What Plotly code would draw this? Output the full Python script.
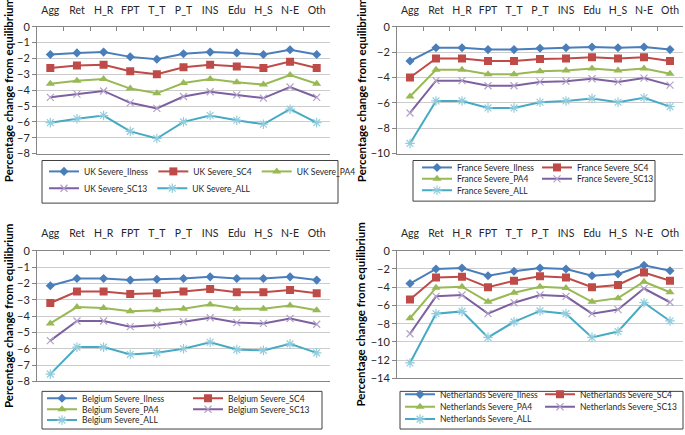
import plotly.graph_objects as go

# sectors on the category axis
categories = ["Agg", "Ret", "H_R", "FPT", "T_T", "P_T", "INS", "Edu", "H_S", "N-E", "Oth"]
scenarios = ["Severe_Ilness", "Severe_SC4", "Severe_PA4", "Severe_SC13", "Severe_ALL"]

# UK
uk_illness = [-1.75, -1.65, -1.6, -1.9, -2.05, -1.7, -1.6, -1.65, -1.75, -1.45, -1.75]
uk_sc4 = [-2.6, -2.45, -2.4, -2.8, -3.0, -2.55, -2.4, -2.5, -2.6, -2.2, -2.6]
uk_pa4 = [-3.6, -3.4, -3.3, -3.9, -4.2, -3.55, -3.3, -3.5, -3.65, -3.05, -3.6]
uk_sc13 = [-4.45, -4.25, -4.05, -4.8, -5.15, -4.4, -4.1, -4.3, -4.5, -3.8, -4.45]
uk_all = [-6.05, -5.8, -5.6, -6.6, -7.05, -6.0, -5.6, -5.9, -6.15, -5.2, -6.05]

# France
fr_illness = [-2.7, -1.65, -1.65, -1.8, -1.8, -1.7, -1.65, -1.6, -1.65, -1.6, -1.8]
fr_sc4 = [-4.0, -2.5, -2.5, -2.7, -2.7, -2.55, -2.5, -2.4, -2.5, -2.4, -2.7]
fr_pa4 = [-5.5, -3.4, -3.4, -3.75, -3.75, -3.5, -3.45, -3.3, -3.45, -3.3, -3.7]
fr_sc13 = [-6.8, -4.25, -4.25, -4.65, -4.65, -4.35, -4.3, -4.1, -4.35, -4.05, -4.6]
fr_all = [-9.2, -5.85, -5.85, -6.4, -6.4, -5.95, -5.85, -5.65, -5.95, -5.6, -6.3]

# Belgium
be_illness = [-2.15, -1.7, -1.7, -1.8, -1.75, -1.7, -1.6, -1.7, -1.7, -1.6, -1.8]
be_sc4 = [-3.2, -2.5, -2.5, -2.65, -2.6, -2.5, -2.35, -2.55, -2.55, -2.4, -2.6]
be_pa4 = [-4.45, -3.45, -3.5, -3.7, -3.65, -3.55, -3.3, -3.55, -3.55, -3.35, -3.65]
be_sc13 = [-5.5, -4.3, -4.3, -4.65, -4.55, -4.35, -4.1, -4.4, -4.45, -4.15, -4.5]
be_all = [-7.55, -5.9, -5.9, -6.35, -6.25, -6.0, -5.6, -6.05, -6.1, -5.7, -6.25]

# Netherlands
nl_illness = [-3.6, -2.0, -1.9, -2.75, -2.25, -1.9, -2.0, -2.75, -2.55, -1.6, -2.2]
nl_sc4 = [-5.35, -2.95, -2.85, -4.0, -3.3, -2.8, -2.95, -4.0, -3.75, -2.4, -3.3]
nl_pa4 = [-7.4, -4.05, -3.95, -5.6, -4.6, -3.95, -4.1, -5.6, -5.2, -3.4, -4.55]
nl_sc13 = [-9.1, -5.0, -4.85, -6.9, -5.7, -4.85, -5.0, -6.9, -6.45, -4.15, -5.65]
nl_all = [-12.3, -6.9, -6.65, -9.5, -7.8, -6.6, -6.9, -9.5, -8.85, -5.7, -7.7]

W, H = 685, 435
FONT = "Lato, Roboto, sans-serif"


def fx(p):
    return p / W


def fy(p):
    return 1 - p / H


# line colour, marker symbol, marker size, marker colour, marker line width
styles = [
    ("#4a7ebb", "diamond", 7, "#4a7ebb", 0),
    ("#be4b48", "square", 8, "#be4b48", 0),
    ("#98b954", "triangle-up", 8, "#98b954", 0),
    ("#7d60a0", "x-thin", 7, "#b3a2c7", 1.2),
    ("#46aac5", "asterisk", 8, "#93cddd", 1.2),
]

# legendx = left of the legend rows, entry = distance between columns (px)
panels = [
    dict(name="UK", series=[uk_illness, uk_sc4, uk_pa4, uk_sc13, uk_all],
         xpix=(37, 330), ypix=(27, 155), yrange=[-8, 0], dtick=1,
         rows=[[0, 1, 2], [3, 4]], rowy=[173, 190], legendx=44, entry=None,
         box=(42, 162, 338, 205), titlex=8),
    dict(name="France", series=[fr_illness, fr_sc4, fr_pa4, fr_sc13, fr_all],
         xpix=(397, 683), ypix=(27, 155), yrange=[-10, 0], dtick=2,
         rows=[[0, 1], [2, 3], [4]], rowy=[169, 180.5, 192], legendx=417, entry=120,
         box=(413, 162, 655, 203), titlex=361),
    dict(name="Belgium", series=[be_illness, be_sc4, be_pa4, be_sc13, be_all],
         xpix=(37, 330), ypix=(253, 385), yrange=[-8, 0], dtick=1,
         rows=[[0, 1], [2, 3], [4]], rowy=[402, 413, 424], legendx=42, entry=146,
         box=(42, 395, 322, 433), titlex=8),
    dict(name="Netherlands", series=[nl_illness, nl_sc4, nl_pa4, nl_sc13, nl_all],
         xpix=(397, 683), ypix=(253, 382), yrange=[-14, 0], dtick=2,
         rows=[[0, 1], [2, 3], [4]], rowy=[398, 410.5, 423], legendx=400, entry=140,
         box=(400, 395, 683, 433), titlex=361),
]

fig = go.Figure()
layout = {}
shapes = []
annotations = []
legend_no = 0

for i, p in enumerate(panels):
    sfx = "" if i == 0 else str(i + 1)

    # one legend per legend row, so rows wrap like the original
    row_legend = {}
    for row, yc in zip(p["rows"], p["rowy"]):
        legend_no += 1
        lname = "legend" if legend_no == 1 else f"legend{legend_no}"
        for k in row:
            row_legend[k] = lname
        leg = dict(orientation="h", x=fx(p["legendx"]), y=fy(yc),
                   xanchor="left", yanchor="middle",
                   bgcolor="rgba(0,0,0,0)", borderwidth=0,
                   font=dict(family=FONT, size=8.5, color="#262626"),
                   traceorder="normal", itemclick=False, itemdoubleclick=False)
        if p["entry"]:
            leg["entrywidth"] = p["entry"] - 45
        layout[lname] = leg

    for k, (vals, sc) in enumerate(zip(p["series"], scenarios)):
        lc, sym, size, mc, mlw = styles[k]
        fig.add_trace(go.Scatter(
            x=categories, y=vals, name=f"{p['name']} {sc}",
            mode="lines+markers",
            line=dict(color=lc, width=2),
            marker=dict(symbol=sym, size=size, color=mc,
                        line=dict(width=mlw, color=mc)),
            xaxis="x" + sfx, yaxis="y" + sfx,
            legend=row_legend[k],
        ))

    # category axis sits on the zero line at the top
    layout["xaxis" + sfx] = dict(
        domain=[fx(p["xpix"][0]), fx(p["xpix"][1])], anchor="y" + sfx,
        type="category", side="top", range=[-0.5, 10.5],
        showline=True, linecolor="#868686", mirror=True,
        ticks="inside", tickson="boundaries", ticklen=4, tickcolor="#868686",
        tickangle=0, ticklabelstandoff=8, showgrid=False,
        tickfont=dict(family=FONT, size=10.5, color="#262626"),
    )
    layout["yaxis" + sfx] = dict(
        domain=[fy(p["ypix"][1]), fy(p["ypix"][0])], anchor="x" + sfx,
        range=p["yrange"], dtick=p["dtick"], tick0=0,
        showline=True, linecolor="#868686", mirror=False,
        ticks="outside", ticklen=4, tickcolor="#868686",
        showgrid=True, gridcolor="#cccccc", gridwidth=1.2, zeroline=False,
        tickfont=dict(family=FONT, size=11, color="#262626"),
    )

    # legend frame
    x0, y0, x1, y1 = p["box"]
    shapes.append(dict(type="rect", xref="paper", yref="paper",
                       x0=fx(x0), x1=fx(x1), y0=fy(y1), y1=fy(y0),
                       line=dict(color="#404040", width=1)))

    # rotated axis title, centred on the plot area
    annotations.append(dict(
        text="<b>Percentage change from equilibrium</b>", textangle=-90,
        xref="paper", yref="paper", showarrow=False,
        x=fx(p["titlex"]), y=fy((p["ypix"][0] + p["ypix"][1]) / 2),
        xanchor="center", yanchor="middle",
        font=dict(family="Lato, sans-serif", size=11.5, color="#000000"),
    ))

fig.update_layout(
    width=W, height=H,
    margin=dict(l=0, r=0, t=0, b=0),
    template="none",
    paper_bgcolor="white", plot_bgcolor="white",
    showlegend=True,
    shapes=shapes, annotations=annotations,
    font=dict(family=FONT),
    **layout,
)

# drop the browser's default page margin so the figure sits at (0, 0)
fig.write_html("out.html", config={"displayModeBar": False},
               post_script="document.body.style.margin = '0';")
